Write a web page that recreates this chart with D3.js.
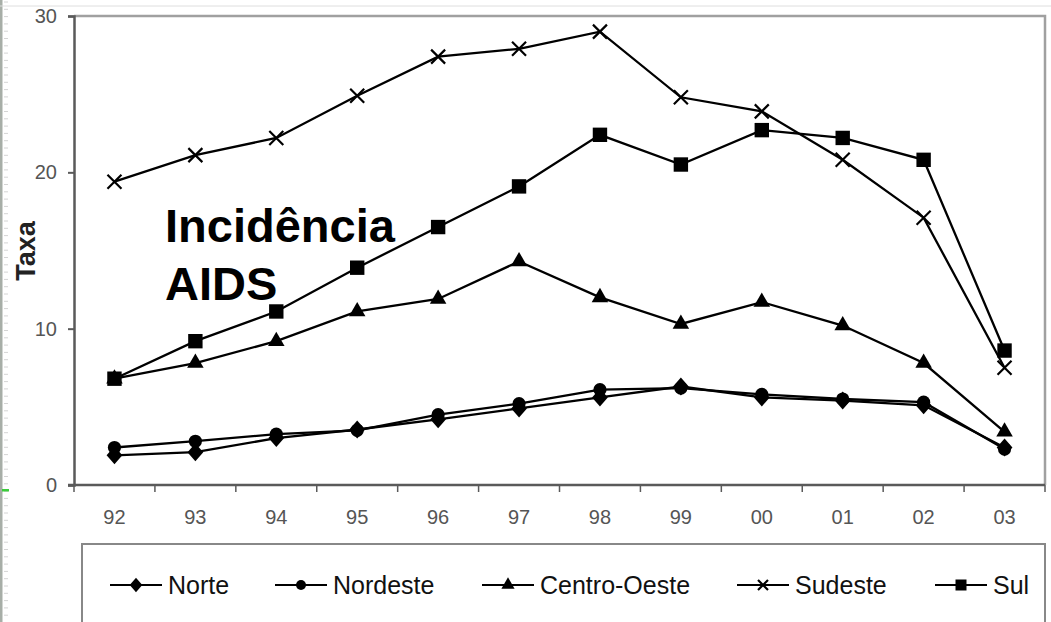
<!DOCTYPE html>
<html>
<head>
<meta charset="utf-8">
<script src="https://cdn.jsdelivr.net/npm/d3@7/dist/d3.min.js"></script>
<style>
  html, body { margin: 0; padding: 0; background: #fff; }
  svg { display: block; }
  text { font-family: "Liberation Sans", Arial, sans-serif; }
</style>
</head>
<body>
<svg id="chart" width="1051" height="622"></svg>
<script>
// Taxa de incidência de AIDS por região, 1992–2003
const years = ["92", "93", "94", "95", "96", "97", "98", "99", "00", "01", "02", "03"];
const norte       = [1.9, 2.1, 3.0, 3.55, 4.2, 4.9, 5.6, 6.3, 5.6, 5.4, 5.1, 2.4];
const nordeste    = [2.4, 2.8, 3.25, 3.5, 4.5, 5.2, 6.1, 6.2, 5.8, 5.5, 5.3, 2.3];
const centroOeste = [6.8, 7.8, 9.2, 11.1, 11.9, 14.3, 12.0, 10.3, 11.7, 10.2, 7.8, 3.4];
const sudeste     = [19.4, 21.1, 22.2, 24.9, 27.4, 27.9, 29.0, 24.8, 23.9, 20.8, 17.1, 7.5];
const sul         = [6.8, 9.2, 11.1, 13.9, 16.5, 19.1, 22.4, 20.5, 22.7, 22.2, 20.8, 8.6];
const yTicks = [0, 10, 20, 30];
const seriesNames = ["Norte", "Nordeste", "Centro-Oeste", "Sudeste", "Sul"];
const markers = ["diamond", "circle", "triangle", "cross", "square"];

const series = [norte, nordeste, centroOeste, sudeste, sul].map((vals, i) => ({
  name: seriesNames[i], marker: markers[i], values: vals
}));

const svg = d3.select("#chart");
const plot = { left: 74, right: 1045, top: 16, bottom: 485 };

const x = d3.scaleBand().domain(years).range([plot.left, plot.right]).paddingInner(0).paddingOuter(0);
const y = d3.scaleLinear().domain([0, 30]).range([plot.bottom, plot.top]);
const cx = d => x(d) + x.bandwidth() / 2;

// slide ruler strip on the left edge
const ruler = svg.append("g");
ruler.append("rect").attr("x", 0).attr("y", 0).attr("width", 2.5).attr("height", 622).attr("fill", "#a7aea7");
ruler.selectAll("line.r").data(d3.range(0, 622, 7.3)).join("line")
  .attr("x1", 4).attr("x2", 8).attr("y1", d => d + 2).attr("y2", d => d + 2)
  .attr("stroke", "#d4d4d4").attr("stroke-width", 1);
ruler.append("rect").attr("x", 2).attr("y", 489).attr("width", 7).attr("height", 2.5).attr("fill", "#3ccc3c");

// faint guide line across the top
svg.append("line").attr("x1", 0).attr("x2", 1051).attr("y1", 6).attr("y2", 6)
  .attr("stroke", "#dedede").attr("stroke-width", 1);

// plot frame (top and right)
svg.append("path")
  .attr("d", `M${plot.left},${plot.top}H${plot.right}V${plot.bottom}`)
  .attr("fill", "none").attr("stroke", "#a0a0a0").attr("stroke-width", 2.5);

// y axis
const yAxis = d3.axisLeft(y).tickValues(yTicks).tickSize(6).tickPadding(11).tickFormat(d3.format("d"));
const gy = svg.append("g").attr("transform", `translate(${plot.left},0)`).call(yAxis);
gy.select(".domain").attr("stroke", "#5a5a5a").attr("stroke-width", 2.5);
gy.selectAll(".tick line").attr("stroke", "#5a5a5a").attr("stroke-width", 2);
gy.selectAll(".tick text").attr("fill", "#555").attr("font-size", 20)
  .attr("font-family", "'Liberation Sans', Arial, sans-serif");

// x axis, ticks between categories
const gx = svg.append("g").attr("transform", `translate(0,${plot.bottom})`);
gx.append("line").attr("x1", plot.left - 6).attr("x2", plot.right).attr("y1", 0).attr("y2", 0)
  .attr("stroke", "#5a5a5a").attr("stroke-width", 2.5);
const bounds = years.map(d => x(d)).concat([plot.right]);
gx.selectAll("line.t").data(bounds).join("line")
  .attr("x1", d => d).attr("x2", d => d).attr("y1", 0).attr("y2", 7)
  .attr("stroke", "#5a5a5a").attr("stroke-width", 1.5);
gx.selectAll("text").data(years).join("text")
  .attr("x", d => cx(d)).attr("y", 39).attr("text-anchor", "middle")
  .attr("fill", "#555").attr("font-size", 20).text(d => d);

// y axis title
svg.append("text").attr("transform", "translate(35,251) rotate(-90)")
  .attr("text-anchor", "middle").attr("font-size", 27).attr("font-weight", "bold")
  .attr("fill", "#222").text("Taxa");

// marker drawing
function drawMarker(sel, type, s) {
  if (type === "cross") {
    sel.append("path")
      .attr("d", `M${-s},${-s}L${s},${s}M${-s},${s}L${s},${-s}`)
      .attr("stroke", "#000").attr("stroke-width", 2.2).attr("fill", "none");
  } else if (type === "diamond") {
    const w = s * 1.05, h = s * 1.2;
    sel.append("path").attr("d", `M0,${-h}L${w},0L0,${h}L${-w},0Z`).attr("fill", "#000");
  } else {
    const map = {
      circle: [d3.symbolCircle, Math.PI * s * s],
      triangle: [d3.symbolTriangle, s * s * 2.1],
      square: [d3.symbolSquare, s * s * 4]
    };
    const [t, size] = map[type];
    sel.append("path").attr("d", d3.symbol().type(t).size(size)).attr("fill", "#000");
  }
}

const line = d3.line().x((d, i) => cx(years[i])).y(d => y(d));

// lines then markers
const gs = svg.append("g");
series.forEach(s => {
  gs.append("path").datum(s.values).attr("d", line)
    .attr("fill", "none").attr("stroke", "#000").attr("stroke-width", 2.3);
});
series.forEach(s => {
  const size = { diamond: 7.5, circle: 6.6, triangle: 7.5, cross: 7, square: 7.2 }[s.marker];
  s.values.forEach((v, i) => {
    const g = gs.append("g").attr("transform", `translate(${cx(years[i])},${y(v)})`);
    drawMarker(g, s.marker, size);
  });
});

// chart annotation
const note = svg.append("text").attr("x", 165).attr("font-size", 47).attr("font-weight", "bold").attr("fill", "#000");
note.append("tspan").attr("x", 165).attr("y", 242).text("Incidência");
note.append("tspan").attr("x", 165).attr("y", 300).text("AIDS");

// legend
svg.append("rect").attr("x", 82).attr("y", 544).attr("width", 963).attr("height", 120)
  .attr("fill", "#fff").attr("stroke", "#888").attr("stroke-width", 2);
const legendX = [110, 275, 482, 737, 935];
const legendY = 585;
series.forEach((s, i) => {
  const g = svg.append("g").attr("transform", `translate(${legendX[i]},${legendY})`);
  g.append("line").attr("x1", 0).attr("x2", 52).attr("stroke", "#000").attr("stroke-width", 2);
  const m = g.append("g").attr("transform", "translate(26,0)");
  const size = { diamond: 6, circle: 5, triangle: 6, cross: 5, square: 5.5 }[s.marker];
  drawMarker(m, s.marker, size);
  g.append("text").attr("x", 58).attr("y", 9).attr("font-size", 25).attr("fill", "#111").text(s.name);
});
</script>
</body>
</html>
